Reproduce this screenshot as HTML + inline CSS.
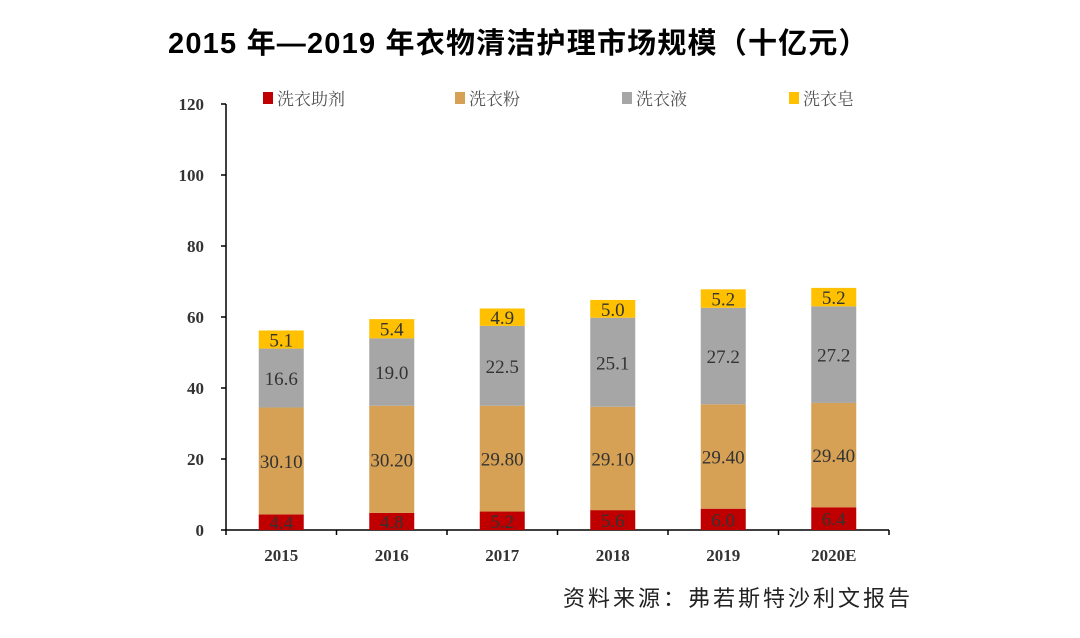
<!DOCTYPE html>
<html><head><meta charset="utf-8">
<style>
body{margin:0;background:#fff;width:1080px;height:638px;overflow:hidden}
svg{display:block}
.t{font-family:"Liberation Serif","Noto Serif CJK SC",serif}
</style></head>
<body>
<svg id="chart" width="1080" height="638">
<text x="168" y="53" font-family="Liberation Sans, Noto Sans CJK SC, sans-serif" font-size="29" font-weight="bold" fill="#000" letter-spacing="1.2">2015 年—2019 年衣物清洁护理市场规模（十亿元）</text>
<text x="563" y="606" font-family="Liberation Sans, Noto Sans CJK SC, sans-serif" font-size="22" fill="#222" letter-spacing="3">资料来源：弗若斯特沙利文报告</text>
<g id="plot"></g>
</svg>
<script>
const categories=["2015","2016","2017","2018","2019","2020E"];
const seriesNames=["洗衣助剂","洗衣粉","洗衣液","洗衣皂"];
const seriesColors=["#c00000","#d6a154","#a6a6a6","#ffc000"];
const s1=[4.4,4.8,5.2,5.6,6.0,6.4];
const s2=[30.1,30.2,29.8,29.1,29.4,29.4];
const s3=[16.6,19.0,22.5,25.1,27.2,27.2];
const s4=[5.1,5.4,4.9,5.0,5.2,5.2];
const labels1=["4.4","4.8","5.2","5.6","6.0","6.4"];
const labels2=["30.10","30.20","29.80","29.10","29.40","29.40"];
const labels3=["16.6","19.0","22.5","25.1","27.2","27.2"];
const labels4=["5.1","5.4","4.9","5.0","5.2","5.2"];
const yTicks=[0,20,40,60,80,100,120];

const NS="http://www.w3.org/2000/svg";
const g=document.getElementById('plot');
const X0=226,Y0=530,CW=110.5,PX=3.55,BW=45;
const y=v=>Y0-v*PX;
const xc=i=>X0+CW*(i+0.5);
function mk(t,a){const e=document.createElementNS(NS,t);for(const k in a)e.setAttribute(k,a[k]);g.appendChild(e);return e;}

let e=mk('line',{x1:X0,y1:y(120),x2:X0,y2:Y0,stroke:'#000','stroke-width':1.5});


e=mk('line',{x1:X0,y1:Y0,x2:X0+CW*categories.length,y2:Y0,stroke:'#000','stroke-width':1.5});


yTicks.forEach(v=>{
  let t=mk('line',{x1:X0-5,y1:y(v),x2:X0,y2:y(v),stroke:'#000','stroke-width':1.5});
  
  
  let l=mk('text',{x:X0-22,y:y(v)+6,'text-anchor':'end','font-size':17,'font-weight':'bold',fill:'#333',class:'t'});
  l.textContent=v;
  
  
});
for(let i=0;i<=categories.length;i++){
  let t=mk('line',{x1:X0+CW*i,y1:Y0,x2:X0+CW*i,y2:Y0+5,stroke:'#000','stroke-width':1.5});
  
  
}
const series=[s1,s2,s3,s4],labs=[labels1,labels2,labels3,labels4];
categories.forEach((c,i)=>{
  let l=mk('text',{x:xc(i),y:Y0+31,'text-anchor':'middle','font-size':17,'font-weight':'bold',fill:'#333',class:'t'});
  l.textContent=c;
  
  
  let base=0;
  series.forEach((s,k)=>{
    const v=s[i];
    let r=mk('rect',{x:xc(i)-BW/2,y:y(base+v),width:BW,height:v*PX,fill:seriesColors[k]});
    
    
    let tx=mk('text',{x:xc(i),y:y(base+v/2)+7,'text-anchor':'middle','font-size':19,fill:'#333',class:'t'});
    tx.textContent=labs[k][i];
    
    
    base+=v;
  });
});
const lx=[263,455,622,789];
seriesNames.forEach((n,k)=>{
  let r=mk('rect',{x:lx[k],y:92,width:10,height:12,fill:seriesColors[k]});
  
  
  let t=mk('text',{x:lx[k]+14,y:105,'font-size':17,fill:'#555','font-family':'Noto Serif CJK SC, serif'});
  t.textContent=n;
  
  
});
</script>
</body></html>
